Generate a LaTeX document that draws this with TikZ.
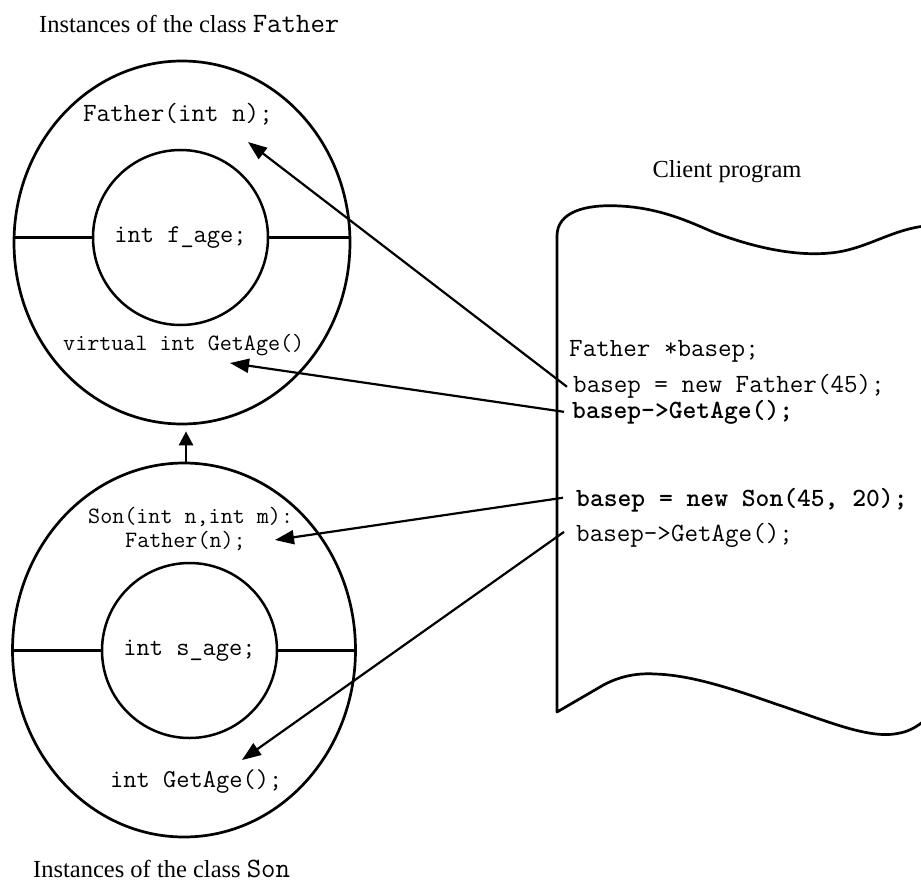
\documentclass[tikz,border=0pt]{standalone}
\usepackage{fontspec}
\setmainfont{Liberation Serif}
\usetikzlibrary{shapes.geometric,arrows.meta}

% typewriter text stays in Latin Modern Mono (slab-serif, like a typewriter face)
\newcommand\captionfont{\rmfamily\fontsize{24.5}{29}\selectfont}
\newcommand\captioncode[1]{{\ttfamily\fontsize{28}{29}\selectfont #1}}
\newcommand\codebig{\ttfamily\fontsize{26.3}{30}\selectfont}
\newcommand\codemid{\ttfamily\fontsize{25.7}{30}\selectfont}
\newcommand\codesmall{\ttfamily\fontsize{23.4}{27}\selectfont}

\tikzset{
  outerring/.style={ellipse, draw, line width=2.7pt, inner sep=0pt},
  innerring/.style={circle, draw, line width=2.5pt, minimum size=175pt, inner sep=0pt, font=\codemid},
  codeline/.style={anchor=base west, inner sep=0pt, font=\codebig},
  codeinside/.style={anchor=base west, inner sep=0pt},
  caption/.style={anchor=base west, inner sep=0pt, font=\captionfont},
  divider/.style={line width=2.5pt},
  callarrow/.style={-{Triangle[length=19pt,width=14pt]}, line width=2.2pt},
  inherit/.style={-{Triangle[length=14pt,width=14pt]}, line width=2.6pt},
  paper/.style={line width=2.7pt, line join=round},
}

\begin{document}
\begin{tikzpicture}[x=1pt, y=-1pt]
\clip (0,0) rectangle (921,888);
\fill[white] (0,0) rectangle (921,888);

% captions
\node[caption] (capF) at (39,33) {Instances of the class \captioncode{Father}};
\node[caption] (capS) at (33,877) {Instances of the class \captioncode{Son}};
\node[caption, anchor=base] (capC) at (727,178) {Client program};

% class Father
\node[outerring, minimum width=336pt, minimum height=363pt] (fOuter) at (182,242.5) {};
\node[innerring] (fInner) at (180.5,237.5) {int f\_age;};
\draw[divider] (fInner.west) -- (fInner.west -| fOuter.west);
\draw[divider] (fInner.east) -- (fInner.east -| fOuter.east);
\node[codeinside, font=\codebig] (fCtor) at (83,122) {Father(int n);};
\node[codeinside, font=\codesmall] (fGet) at (63,350) {virtual int GetAge()};

% class Son
\node[outerring, minimum width=343pt, minimum height=374pt] (sOuter) at (184,650) {};
\node[innerring] (sInner) at (189.5,650.5) {int s\_age;};
\draw[divider] (sInner.west) -- (sInner.west -| sOuter.west);
\draw[divider] (sInner.east) -- (sInner.east -| sOuter.east);
\node[codeinside, font=\codesmall] (sCtorA) at (88,523) {Son(int n,int m):};
\node[codeinside, font=\codesmall] (sCtorB) at (125,547) {Father(n);};
\node[codeinside, font=\codemid] (sGet) at (110,787) {int GetAge();};

% inheritance: Son derives from Father
\draw[inherit, shorten >=6pt] ([xshift=2pt]sOuter.north) -- ([xshift=2pt]sOuter.north |- fOuter.south);

% client program sheet
\draw[paper]
  (925,720) .. controls (918,726) and (910,731) .. (900,733)
  .. controls (870,740) and (830,722) .. (773,703)
  .. controls (730,688) and (690,675) .. (655,674)
  .. controls (640,673) and (620,675) .. (600,687)
  -- (557,712) -- (557,236)
  .. controls (557,212) and (585,204) .. (620,206)
  .. controls (660,208) and (690,222) .. (713,232)
  .. controls (760,250) and (800,256) .. (830,253)
  .. controls (865,250) and (890,230) .. (925,226);

\node[codeline] (c1) at (569,356) {Father *basep;};
\node[codeline] (c2) at (573,392) {basep = new Father(45);};
\node[codeline, font=\codebig\bfseries] (c3) at (572,418) {basep->GetAge();};
\node[codeline, font=\codebig\bfseries] (c4) at (576,506) {basep = new Son(45, 20);};
\node[codeline] (c5) at (576,541) {basep->GetAge();};

% targets of the calls
\coordinate (tFctor) at (248,142);
\coordinate (tFget) at (230,363);
\coordinate (tSctor) at (275,540);
\coordinate (tSget) at (242,760);

\draw[callarrow] ([xshift=-6pt,yshift=-1pt]c2.west) -- (tFctor);
\draw[callarrow] ([xshift=-8pt]c3.west) -- (tFget);
\draw[callarrow] ([xshift=-13pt,yshift=2pt]c4.west) -- (tSctor);
\draw[callarrow] ([xshift=-12pt,yshift=3pt]c5.west) -- (tSget);
\end{tikzpicture}
\end{document}
